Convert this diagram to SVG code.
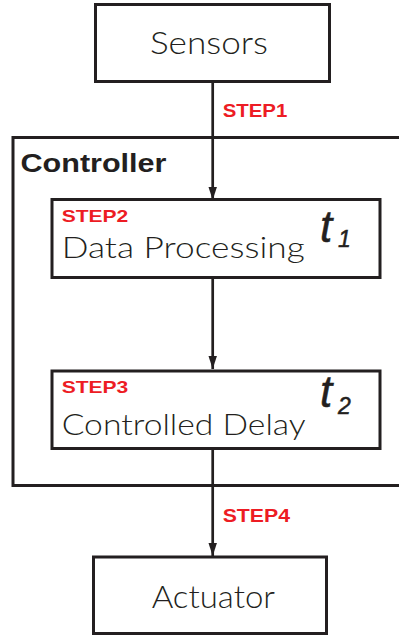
<svg xmlns="http://www.w3.org/2000/svg" width="399" height="636" viewBox="0 0 399 636">
<style>
.box{fill:#fff;stroke:#231f20;stroke-width:3}
.frame{fill:none;stroke:#231f20;stroke-width:3}
.lbl{font-family:Lato,Inter,"Liberation Sans",sans-serif;font-weight:300;fill:#231f20}
.step{font-family:"Liberation Sans",Arial,sans-serif;font-weight:bold;fill:#ed1c24}
.ctl{font-family:"Liberation Sans",Arial,sans-serif;font-weight:bold;fill:#231f20}
.t{font-family:"Liberation Sans",Arial,sans-serif;font-style:italic;fill:#231f20;stroke:#231f20;stroke-width:0.5}
.conn{stroke:#231f20;stroke-width:2.7;fill:none;marker-end:url(#ah)}
</style>
<defs>
<marker id="ah" markerUnits="userSpaceOnUse" markerWidth="13" markerHeight="20" refX="20" refY="6.5" orient="auto" viewBox="0 0 20 13">
<path d="M0,0 L20,6.5 L0,13 Z" fill="#231f20"/>
</marker>
</defs>
<g id="controller">
<rect class="frame" x="13" y="137.5" width="400" height="348"/>
<text class="ctl" x="20.5" y="171.5" font-size="26.5" textLength="146" lengthAdjust="spacingAndGlyphs">Controller</text>
</g>
<g id="connectors">
<line class="conn" x1="212.7" y1="81" x2="212.7" y2="200"/>
<line class="conn" x1="212.7" y1="277" x2="212.7" y2="369"/>
<line class="conn" x1="212.7" y1="450" x2="212.7" y2="556"/>
<text class="step" x="222.7" y="116.7" font-size="18.5" textLength="64.6" lengthAdjust="spacingAndGlyphs">STEP1</text>
<text class="step" x="222.7" y="521.7" font-size="18.5" textLength="67.3" lengthAdjust="spacingAndGlyphs">STEP4</text>
</g>
<g id="sensors">
<rect class="box" x="95.5" y="4.5" width="234" height="77"/>
<text class="lbl" x="150" y="54" font-size="32" textLength="118" lengthAdjust="spacingAndGlyphs">Sensors</text>
</g>
<g id="data-processing">
<rect class="box" x="52" y="199.5" width="328" height="78"/>
<text class="step" x="61.7" y="221.7" font-size="17" textLength="66.6" lengthAdjust="spacingAndGlyphs">STEP2</text>
<text class="lbl" x="61.7" y="258.3" font-size="30" textLength="243" lengthAdjust="spacingAndGlyphs">Data Processing</text>
<text class="t" x="320" y="241.7" font-size="44">t</text>
<text class="t" x="338" y="246.7" font-size="23">1</text>
</g>
<g id="controlled-delay">
<rect class="box" x="52" y="371" width="328" height="77.5"/>
<text class="step" x="61.7" y="393.3" font-size="17" textLength="66.6" lengthAdjust="spacingAndGlyphs">STEP3</text>
<text class="lbl" x="61.7" y="435" font-size="30" textLength="244" lengthAdjust="spacingAndGlyphs">Controlled Delay</text>
<text class="t" x="320" y="407" font-size="44">t</text>
<text class="t" x="338" y="413.7" font-size="23">2</text>
</g>
<g id="actuator">
<rect class="box" x="93.5" y="557" width="233" height="76.5"/>
<text class="lbl" x="151.7" y="608.3" font-size="32" textLength="123.3" lengthAdjust="spacingAndGlyphs">Actuator</text>
</g>
</svg>
